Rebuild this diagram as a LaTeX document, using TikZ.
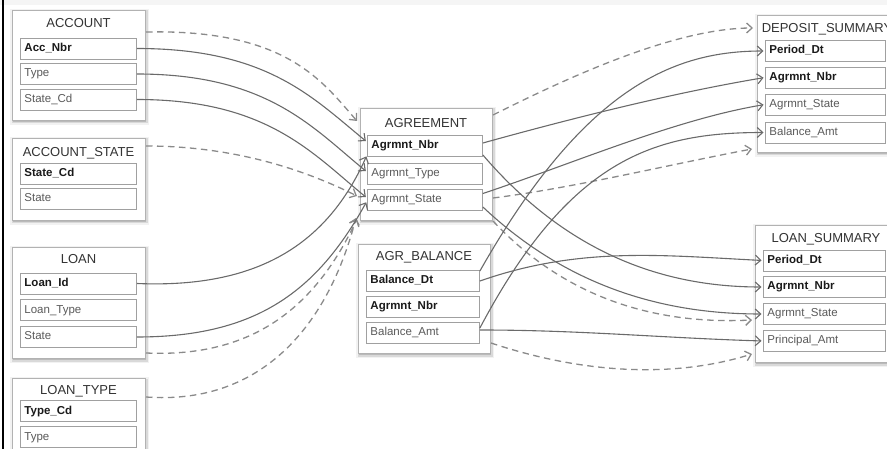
\documentclass[tikz,border=0pt]{standalone}
\usepackage{fontspec}
\setmainfont{Liberation Sans}
\usepackage{xcolor}
\usetikzlibrary{arrows.meta,shadows}
\definecolor{erline}{HTML}{6A6A6A}
\definecolor{erdash}{HTML}{8A8A8A}
\definecolor{erbox}{HTML}{B2B2B2}
\definecolor{erfld}{HTML}{A0A0A0}
\definecolor{erkey}{HTML}{1A1A1A}
\definecolor{ertxt}{HTML}{5A5A5A}
\definecolor{erttl}{HTML}{333333}
\newcommand{\ttlfont}{\fontsize{13}{15}\selectfont}
\newcommand{\fldfont}{\fontsize{11.5}{13}\selectfont}
\tikzset{
  ent/.style = {rectangle, draw=erbox, line width=1pt, fill=white,
                minimum width=133pt, anchor=north west, inner sep=0pt,
                general shadow={shadow xshift=.5pt, shadow yshift=-1.5pt,
                  draw=black, fill=black, line width=6pt, opacity=.05},
                general shadow={shadow xshift=.5pt, shadow yshift=-1.5pt,
                  draw=black, fill=black, line width=3pt, opacity=.1}},
  ttl/.style = {font=\ttlfont, text=erttl, anchor=base, inner sep=0pt},
  fld/.style = {rectangle, draw=erfld, line width=.9pt, fill=white,
                anchor=west, text width=108pt, align=left, inner xsep=4pt,
                inner ysep=0pt, minimum height=21pt, text height=8.5pt,
                text depth=2.5pt, font=\fldfont, text=ertxt},
  key/.style = {fld, font=\fldfont\bfseries, text=erkey},
  ln/.style  = {-{Straight Barb[length=5.5pt,width=10pt]}, draw=erline,
                line width=1.1pt, shorten >=1.5pt},
  dl/.style  = {-{Straight Barb[length=5.5pt,width=10pt]}, draw=erdash,
                line width=1.3pt, dash pattern=on 6.5pt off 4.5pt},
}

\begin{document}
\begin{tikzpicture}[x=1pt,y=-1pt]
  \useasboundingbox (0,0) rectangle (887,449);
  \fill[black!4] (0,0) rectangle (887,5);
  \draw[line width=2pt] (3,0) -- (3,449);

  % source tables
  \node[ent, minimum height=110pt] (acc) at (12,10) {};
  \node[ttl] (acct) at (78.5,28) {ACCOUNT};
  \node[key] (accnbr)  at (20,48.5) {Acc\_Nbr};
  \node[fld] (acctype) at (20,74)   {Type};
  \node[fld] (accstcd) at (20,99.5) {State\_Cd};

  \node[ent, minimum height=82pt] (ast) at (12,138) {};
  \node[ttl] (astt) at (78.5,157) {ACCOUNT\_STATE};
  \node[key] (aststcd)  at (20,173.5) {State\_Cd};
  \node[fld] (aststate) at (20,199)   {State};

  \node[ent, minimum height=111pt] (loan) at (12,247) {};
  \node[ttl] (loant) at (78.5,264) {LOAN};
  \node[key] (loanid)   at (20,283.5) {Loan\_Id};
  \node[fld] (loantype) at (20,310)   {Loan\_Type};
  \node[fld] (loanst)   at (20,337)   {State};

  \node[ent, minimum height=85pt] (ltype) at (12,378) {};
  \node[ttl] (ltypet) at (78.5,394) {LOAN\_TYPE};
  \node[key] (ltypecd) at (20,411) {Type\_Cd};
  \node[fld] (ltypetp) at (20,437) {Type};

  % integration tables
  \node[ent, minimum width=132pt, minimum height=112pt] (agr) at (360,108) {};
  \node[ttl] (agrt) at (426,128) {AGREEMENT};
  \node[key, text width=107pt] (agrnbr)  at (367,146)   {Agrmnt\_Nbr};
  \node[fld, text width=107pt] (agrtype) at (367,174)   {Agrmnt\_Type};
  \node[fld, text width=107pt] (agrst)   at (367,199.5) {Agrmnt\_State};

  \node[ent, minimum width=132pt, minimum height=109pt] (bal) at (358,244) {};
  \node[ttl] (balt) at (424,261) {AGR\_BALANCE};
  \node[key, text width=105pt] (baldt)  at (366,281)   {Balance\_Dt};
  \node[key, text width=105pt] (balnbr) at (366,306.5) {Agrmnt\_Nbr};
  \node[fld, text width=105pt] (balamt) at (366,333)   {Balance\_Amt};

  % summary tables
  \node[ent, minimum width=140pt, minimum height=137pt] (dep) at (757,15) {};
  \node[ttl] (dept) at (827,33) {DEPOSIT\_SUMMARY};
  \node[key, text width=112pt] (deppdt) at (765,51)    {Period\_Dt};
  \node[key, text width=112pt] (depnbr) at (765,77.5)  {Agrmnt\_Nbr};
  \node[fld, text width=112pt] (depst)  at (765,104.5) {Agrmnt\_State};
  \node[fld, text width=112pt] (depamt) at (765,132.5) {Balance\_Amt};

  \node[ent, minimum width=140pt, minimum height=137pt] (lsum) at (755,225) {};
  \node[ttl] (lsumt) at (826,243) {LOAN\_SUMMARY};
  \node[key, text width=114pt] (lspdt)  at (763,260.5) {Period\_Dt};
  \node[key, text width=114pt] (lsnbr)  at (763,287)   {Agrmnt\_Nbr};
  \node[fld, text width=114pt] (lsst)   at (763,314)   {Agrmnt\_State};
  \node[fld, text width=114pt] (lspamt) at (763,341)   {Principal\_Amt};

  % table lineage
  \draw[dl] ([yshift=-22pt]acc.north east) .. controls +(140,-3) and +(-35,-40) .. ([xshift=-3pt,yshift=-13pt]agr.north west);
  \draw[dl] ([yshift=-8pt]ast.north east) .. controls +(90,0) and +(-50,-25) .. ([xshift=-3pt,yshift=-88pt]agr.north west);
  \draw[dl] ([yshift=6pt]loan.south east) .. controls +(110,5) and +(-40,85) .. ([xshift=-3pt,yshift=2pt]agr.south west);
  \draw[dl] ([yshift=-19pt]ltype.north east) .. controls +(110,8) and +(-30,115) .. ([xshift=-4pt,yshift=3pt]agr.south west);
  \draw[dl] ([yshift=-7pt]agr.north east) .. controls +(70,-35) and +(-80,0) .. ([xshift=-4pt,yshift=-13pt]dep.north west);
  \draw[dl] ([yshift=-90pt]agr.north east) .. controls +(80,-10) and +(-80,15) .. ([xshift=-5pt,yshift=4pt]dep.south west);
  \draw[dl] (agr.south east) .. controls +(70,75) and +(-100,5) .. ([xshift=-3pt,yshift=-95pt]lsum.north west);
  \draw[dl] ([yshift=11pt]bal.south east) .. controls +(90,30) and +(-80,25) .. ([xshift=-3pt,yshift=9pt]lsum.south west);

  % column mapping
  \draw[ln] (accnbr.east) .. controls +(130,0) and +(-55,-45) .. ([yshift=4pt]agrnbr.west);
  \draw[ln] (acctype.east) .. controls +(130,0) and +(-55,-45) .. ([yshift=2pt]agrtype.west);
  \draw[ln] (accstcd.east) .. controls +(130,0) and +(-55,-45) .. ([yshift=1.5pt]agrst.west);
  \draw[ln] (loanid.east) .. controls +(120,5) and +(-40,90) .. ([yshift=-9pt]agrnbr.west);
  \draw[ln] (loanst.east) .. controls +(120,0) and +(-50,90) .. ([yshift=-1.5pt]agrst.west);
  \draw[ln] ([yshift=3pt]agrnbr.east) .. controls +(90,-25) and +(-90,15) .. (depnbr.west);
  \draw[ln] ([yshift=6pt]agrst.east) .. controls +(90,-30) and +(-90,15) .. (depst.west);
  \draw[ln] ([yshift=-9pt]agrnbr.east) .. controls +(90,105) and +(-90,0) .. (lsnbr.west);
  \draw[ln] ([yshift=-7.5pt]agrst.east) .. controls +(90,85) and +(-90,0) .. (lsst.west);
  \draw[ln] ([yshift=10pt]baldt.east) .. controls +(105,-185) and +(-90,0) .. (deppdt.west);
  \draw[ln] (baldt.east) .. controls +(100,-35) and +(-100,-5) .. (lspdt.west);
  \draw[ln] ([yshift=5pt]balamt.east) .. controls +(90,-170) and +(-110,0) .. (depamt.west);
  \draw[ln] ([yshift=3pt]balamt.east) .. controls +(100,0) and +(-100,-3) .. (lspamt.west);
\end{tikzpicture}
\end{document}
